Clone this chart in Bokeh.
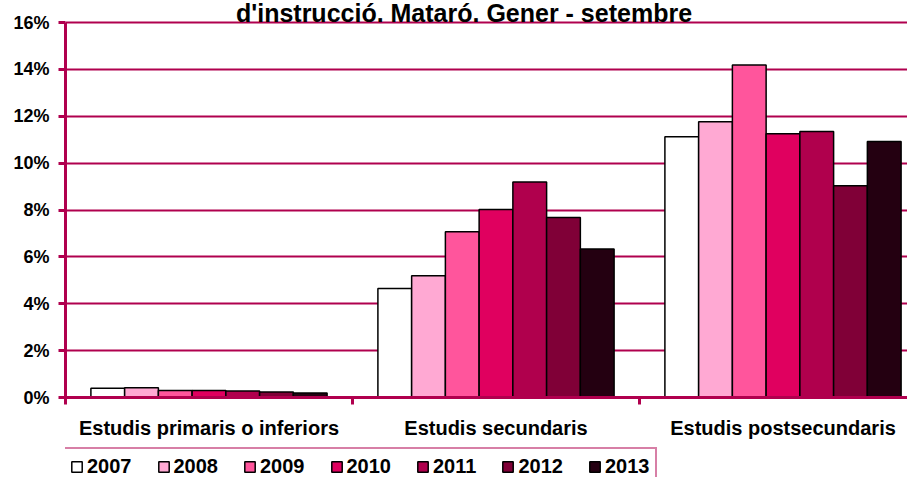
from bokeh.plotting import figure
from bokeh.models import Range1d, FixedTicker, Legend, LegendItem, ColumnDataSource, Span, Label
from bokeh.core.properties import value
from bokeh.embed import file_html
from bokeh.resources import INLINE

categories = ["Estudis primaris o inferiors", "Estudis secundaris", "Estudis postsecundaris"]
years = ["2007", "2008", "2009", "2010", "2011", "2012", "2013"]
v2007 = [0.40, 4.65, 11.13]
v2008 = [0.42, 5.20, 11.77]
v2009 = [0.30, 7.07, 14.19]
v2010 = [0.30, 8.02, 11.25]
v2011 = [0.28, 9.19, 11.35]
v2012 = [0.24, 7.68, 9.04]
v2013 = [0.19, 6.34, 10.92]
series = [v2007, v2008, v2009, v2010, v2011, v2012, v2013]
colors = ["#FFFFFF", "#FFA9D3", "#FF559C", "#E0005F", "#B0004D", "#800037", "#240011"]
y_ticks = [0, 2, 4, 6, 8, 10, 12, 14, 16]
y_tick_labels = ["0%", "2%", "4%", "6%", "8%", "10%", "12%", "14%", "16%"]
title_text = "d'instrucció. Mataró. Gener - setembre"

AXIS = "#B0004E"
FONT = "Liberation Sans"

W, H = 907, 477
LEFT, TOP = 65, 22
PX_PER_UNIT = 375 / 16.0
y_lo = -(H - 397) / PX_PER_UNIT
y_hi = 16 + TOP / PX_PER_UNIT

p = figure(width=W, height=H, output_backend="svg", toolbar_location=None,
           x_range=Range1d(0, (W - LEFT) / 287.0), y_range=Range1d(y_lo, y_hi),
           min_border_left=LEFT, min_border_right=0, min_border_top=0, min_border_bottom=0)
p.outline_line_color = None
p.background_fill_color = "white"
p.xaxis.visible = False

group = 0.823
bw = group / len(years)
items = []
for j, (yr, vals, col) in enumerate(zip(years, series, colors)):
    xs = [i + 0.5 + (j - 3) * bw for i in range(len(categories))]
    src = ColumnDataSource(dict(x=xs, top=vals))
    r = p.vbar(x="x", top="top", width=bw, bottom=0, source=src,
               fill_color=col, line_color="black", line_width=1.5)
    items.append(LegendItem(label=yr, renderers=[r]))

# y axis
ya = p.yaxis[0]
ya.ticker = FixedTicker(ticks=y_ticks)
ya.bounds = (-7 / PX_PER_UNIT, 16)
ya.major_label_overrides = {t: l for t, l in zip(y_ticks, y_tick_labels)}
ya.major_tick_out = 7
ya.major_tick_in = 0
ya.major_tick_line_color = AXIS
ya.major_tick_line_width = 3
ya.minor_tick_line_color = None
ya.axis_line_color = AXIS
ya.axis_line_width = 3
ya.major_label_standoff = 9
ya.major_label_text_font = FONT
ya.major_label_text_font_style = "bold"
ya.major_label_text_font_size = "18px"
ya.major_label_text_color = "black"

p.xgrid.grid_line_color = None
p.ygrid.ticker = FixedTicker(ticks=y_ticks)
p.ygrid.grid_line_color = AXIS
p.ygrid.grid_line_width = 2

# category axis: baseline, boundary ticks, labels
p.add_layout(Span(location=0, dimension="width", line_color=AXIS, line_width=3))
bounds_x = list(range(1, len(categories) + 1))
p.segment(x0=bounds_x, x1=bounds_x, y0=[0] * len(bounds_x), y1=[-7 / PX_PER_UNIT] * len(bounds_x),
          line_color=AXIS, line_width=3)
p.text(x=[i + 0.5 for i in range(len(categories))], y=[-30 / PX_PER_UNIT] * len(categories),
       text=categories, text_align="center", text_baseline="middle",
       text_font=value(FONT), text_font_style="bold", text_font_size="20px", text_color="black")

# title (only partially visible at the top in the reference)
p.add_layout(Label(x=(463.5 - LEFT) / 287.0, y=16 + 10 / PX_PER_UNIT, text=title_text,
                   text_align="center", text_baseline="alphabetic",
                   text_font=FONT, text_font_style="bold", text_font_size="25px", text_color="black"))

legend = Legend(items=items, orientation="horizontal", location=(-3, -9))
legend.margin = 0
legend.padding = 6
legend.spacing = 25
legend.label_standoff = 4
legend.glyph_width = 13
legend.glyph_height = 13
legend.label_height = 20
legend.label_text_font = FONT
legend.label_text_font_style = "bold"
legend.label_text_font_size = "20px"
legend.label_text_color = "black"
legend.border_line_color = AXIS
legend.border_line_width = 2
legend.background_fill_alpha = 1
p.add_layout(legend)

open("out.html", "w").write(file_html(p, INLINE))
